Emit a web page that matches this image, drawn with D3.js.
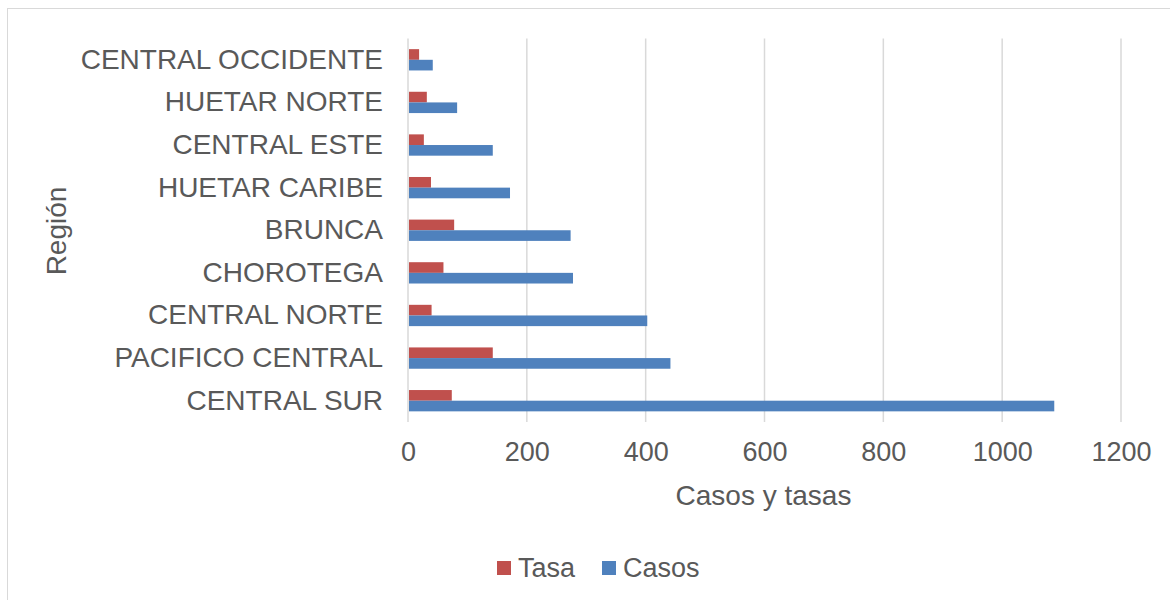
<!DOCTYPE html>
<html>
<head>
<meta charset="utf-8">
<script src="https://cdn.jsdelivr.net/npm/d3@7"></script>
<style>
  body { margin: 0; background: #fff; }
  text { font-family: "Liberation Sans", Arial, sans-serif; fill: #595959; }
</style>
</head>
<body>
<svg id="chart" width="1170" height="600"></svg>
<script>
// data, bottom to top as in the original chart
const regions = ["CENTRAL SUR", "PACIFICO CENTRAL", "CENTRAL NORTE", "CHOROTEGA", "BRUNCA",
                 "HUETAR CARIBE", "CENTRAL ESTE", "HUETAR NORTE", "CENTRAL OCCIDENTE"];
const tasa  = [72, 141, 38, 58, 76, 37, 25, 30, 17];
const casos = [1086, 440, 401, 276, 272, 170, 141, 81, 40];
const xTicks = [0, 200, 400, 600, 800, 1000, 1200];
const seriesNames = ["Tasa", "Casos"];
const seriesColors = ["#c0504d", "#4f81bd"];

const svg = d3.select("#chart");
const margin = {top: 38.5, left: 408, right: 49, bottom: 178};
const width = 1170 - margin.left - margin.right;
const height = 600 - margin.top - margin.bottom;

// chart frame
svg.append("rect")
    .attr("x", 7.5).attr("y", 8.5)
    .attr("width", 1180).attr("height", 620)
    .attr("fill", "none").attr("stroke", "#d9d9d9");

const g = svg.append("g").attr("transform", `translate(${margin.left},${margin.top})`);

const x = d3.scaleLinear().domain([0, 1200]).range([0, width]);
const y = d3.scaleBand().domain(regions.slice().reverse()).range([0, height])
            .paddingInner(0.5).paddingOuter(0.25);
const ySub = d3.scaleBand().domain(seriesNames).range([0, y.bandwidth()]);

// gridlines
g.selectAll(".grid")
  .data(xTicks)
  .enter().append("line")
    .attr("x1", d => x(d)).attr("x2", d => x(d))
    .attr("y1", 0).attr("y2", height)
    .attr("stroke", "#d9d9d9").attr("stroke-width", 1.5);

// x axis labels
const xAxis = g.append("g")
    .attr("transform", `translate(0,${height})`)
    .call(d3.axisBottom(x).tickValues(xTicks).tickSize(0).tickPadding(20).tickFormat(d3.format("d")));
xAxis.select(".domain").remove();
xAxis.selectAll("text").style("font-size", "27px").attr("fill", "#595959");

// y axis labels
const yAxis = g.append("g")
    .call(d3.axisLeft(y).tickSize(0).tickPadding(25));
yAxis.select(".domain").remove();
yAxis.selectAll("text").style("font-size", "28px").attr("fill", "#595959");

// bars
const rows = regions.map((r, i) => ({region: r, values: [tasa[i], casos[i]]}));
const grp = g.selectAll(".row")
  .data(rows)
  .enter().append("g")
    .attr("transform", d => `translate(0,${y(d.region)})`);

grp.selectAll("rect")
  .data(d => d.values.map((v, k) => ({name: seriesNames[k], value: v, k: k})))
  .enter().append("rect")
    .attr("x", x(0) + 1)
    .attr("y", d => ySub(d.name))
    .attr("width", d => x(d.value) - x(0))
    .attr("height", ySub.bandwidth())
    .attr("fill", d => seriesColors[d.k]);

// axis titles
svg.append("text")
    .attr("x", margin.left + width / 2 - 1).attr("y", 505)
    .attr("text-anchor", "middle")
    .style("font-size", "28px")
    .text("Casos y tasas");

svg.append("text")
    .attr("transform", "translate(66,231) rotate(-90)")
    .attr("text-anchor", "middle")
    .style("font-size", "28px")
    .text("Región");

// legend
const legendX = [497, 602];
const legend = svg.selectAll(".legend")
  .data(seriesNames)
  .enter().append("g")
    .attr("transform", (d, i) => `translate(${legendX[i]},561)`);
legend.append("rect")
    .attr("width", 14).attr("height", 14)
    .attr("fill", (d, i) => seriesColors[i]);
legend.append("text")
    .attr("x", 21).attr("y", 16)
    .style("font-size", "27px")
    .text(d => d);
</script>
</body>
</html>
